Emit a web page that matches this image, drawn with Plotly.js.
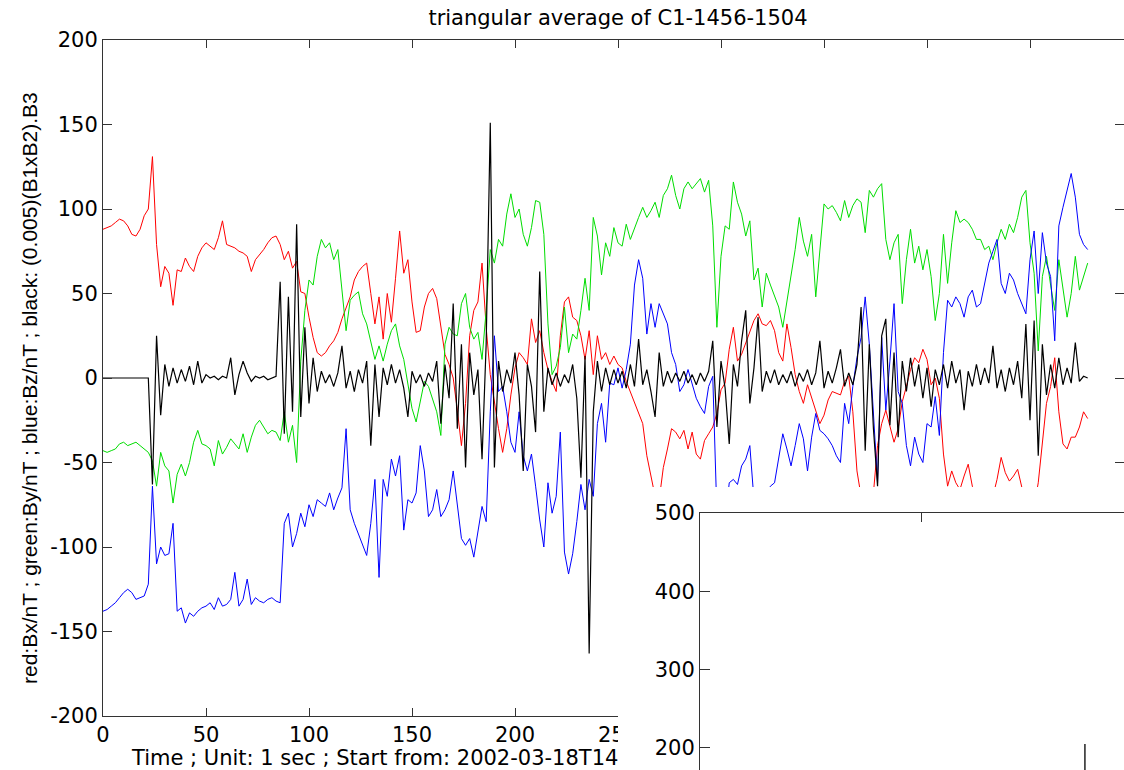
<!DOCTYPE html>
<html>
<head>
<meta charset="utf-8">
<script src="https://cdn.plot.ly/plotly-3.0.1.min.js"></script>
<style>
html,body{margin:0;padding:0;background:#fff;overflow:hidden;}
#chart{width:1124px;height:770px;}
</style>
</head>
<body>
<div id="chart"></div>
<script>
// sample times (seconds)
const timeSec = [0,2,4,6,8,10,12,14,16,18,20,22,24,26,28,30,32,34,36,38,40,42,44,46,48,50,52,54,56,58,60,62,64,66,68,70,72,74,76,78,80,82,84,86,88,90,92,94,96,98,100,102,104,106,108,110,112,114,116,118,120,122,124,126,128,130,132,134,136,138,140,142,144,146,148,150,152,154,156,158,160,162,164,166,168,170,172,174,176,178,180,182,184,186,188,190,192,194,196,198,200,202,204,206,208,210,212,214,216,218,220,222,224,226,228,230,232,234,236,238,240,242,244,246,248,250,252,254,256,258,260,262,264,266,268,270,272,274,276,278,280,282,284,286,288,290,292,294,296,298,300,302,304,306,308,310,312,314,316,318,320,322,324,326,328,330,332,334,336,338,340,342,344,346,348,350,352,354,356,358,360,362,364,366,368,370,372,374,376,378,380,382,384,386,388,390,392,394,396,398,400,402,404,406,408,410,412,414,416,418,420,422,424,426,428,430,432,434,436,438,440,442,444,446,448,450,452,454,456,458,460,462,464,466,468,470,472,474,476,478];

// red: Bx / nT
const bx = [88,89,90,92,94,93,90,85,84,88,
96,100,131,79,54,66,62,43,64,63,
71,66,63,72,77,80,78,76,83,93,
79,78,77,75,74,72,63,70,73,76,
80,83,84,79,70,75,65,69,51,50,
36,24,15,13,15,19,22,27,35,42,
48,58,63,66,68,50,32,48,23,50,
33,59,87,62,70,45,27,28,42,50,
53,47,30,14,8,0,-19,-40,-15,25,
40,45,68,30,2,-15,-30,-44,-30,-10,
6,15,12,8,35,21,28,15,5,-2,
-8,25,45,48,36,34,25,11,28,2,
25,11,15,8,13,8,6,-2,-8,-15,
-20,-27,-46,-58,-70,-72,-53,-42,-30,-32,
-36,-31,-42,-32,-45,-48,-37,-33,-29,-21,
-7,-3,17,30,10,14,21,28,34,38,
32,31,34,28,15,10,32,18,2,-8,
-15,-4,-12,-19,-27,-22,-13,-8,-9,-10,
-2,1,-20,-55,-70,-78,-75,-68,-40,-27,
-19,-28,-38,-30,-14,-5,5,12,9,17,
11,-4,0,-12,-45,-64,-55,-62,-66,-58,
-51,-64,-72,-80,-78,-75,-70,-60,-47,-56,
-61,-58,-54,-65,-75,-80,-76,-62,-40,-15,
-5,12,-20,-39,-42,-35,-35,-29,-20,-24];

// green: By / nT
const by = [-43,-44,-43,-42,-39,-38,-40,-39,-38,-40,
-42,-44,-49,-64,-44,-52,-55,-74,-57,-51,
-58,-50,-38,-31,-39,-40,-42,-52,-37,-45,
-41,-36,-39,-42,-33,-44,-35,-28,-25,-29,
-33,-31,-32,-37,-20,-38,-28,-50,10,40,
58,55,72,82,77,80,70,76,52,28,
46,49,51,38,32,22,11,19,10,20,
28,32,19,11,-3,-18,-26,-15,-2,-5,
-12,-20,-34,20,30,26,25,44,50,30,
23,27,11,40,76,68,82,78,97,109,
95,100,85,78,89,105,104,85,32,2,
7,18,42,15,26,23,40,59,40,95,
84,61,80,72,89,80,78,91,82,89,
95,101,95,99,104,95,108,112,120,108,
100,112,116,112,115,118,110,117,90,30,
72,90,88,116,104,97,84,93,58,65,
42,62,55,48,42,30,46,62,76,95,
81,72,85,48,76,103,100,102,98,93,
105,95,102,106,104,86,111,107,112,115,
82,70,80,85,44,70,88,68,78,64,
76,60,34,50,85,56,80,99,92,94,
92,88,82,82,76,78,70,80,88,82,
91,86,95,107,111,80,62,16,60,72,
55,40,70,52,36,50,72,52,60,68];

// blue: Bz / nT
const bz = [-138,-137,-135,-133,-130,-127,-125,-127,-131,-130,
-129,-122,-64,-110,-100,-105,-104,-86,-138,-136,
-145,-139,-141,-138,-136,-135,-133,-137,-130,-135,
-134,-131,-115,-135,-131,-119,-134,-130,-132,-133,
-131,-130,-132,-133,-86,-80,-100,-92,-80,-88,
-75,-82,-72,-74,-76,-68,-78,-71,-65,-30,
-78,-86,-92,-99,-105,-86,-60,-118,-60,-70,
-48,-58,-46,-90,-72,-74,-68,-40,-55,-82,
-78,-66,-82,-78,-72,-55,-74,-95,-99,-95,
-106,-91,-76,-85,-20,25,-8,-5,-20,-38,
-44,-20,-46,-55,-45,-64,-84,-100,-62,-80,
-70,-32,-103,-116,-104,-85,-63,-78,-60,-70,
-27,-15,-38,-3,-4,6,-6,5,20,55,
70,59,26,44,30,44,38,32,15,8,
-8,-4,5,-3,-12,-17,-21,-5,1,-80,
-95,-85,-62,-60,-63,-52,-48,-40,-72,-80,
-75,-68,-64,-62,-48,-33,-42,-52,-40,-27,
-36,-55,-35,-21,-31,-33,-36,-40,-46,-50,
-15,-27,-5,12,24,48,20,-20,-62,24,
-19,10,44,-8,-15,-40,-52,-35,-45,-50,
-27,-29,-11,-34,15,46,42,48,44,36,
48,52,42,44,56,68,75,82,56,50,
62,58,50,44,38,70,87,50,86,68,
60,22,90,101,111,121,107,85,79,76];

// black: (0.005)(B1xB2).B3
const triple = [0,0,0,0,0,0,0,0,0,0,
0,0,-63,25,-22,8,-5,6,-3,5,
-2,7,-4,10,-3,2,0,1,-1,1,
0,12,-10,2,10,3,-2,1,0,1,
-1,0,1,57,-33,48,-20,91,-23,30,
-15,12,-8,4,-3,2,-5,3,19,-6,
4,-8,5,-3,10,-40,8,-23,6,-4,
8,-3,5,-6,-23,4,-3,2,-5,3,
-2,10,-27,8,-12,44,-30,20,-53,15,
-10,5,-48,20,151,-53,10,-8,5,-3,
15,-10,-55,8,-5,-32,63,-20,6,-4,
3,-5,2,-3,8,-12,-59,13,-163,-20,
10,-8,6,-4,5,-3,4,-6,8,-5,
23,-4,5,-8,-23,15,-5,4,-3,3,
-2,4,-3,2,-4,3,-2,4,22,-29,
10,-6,-39,8,-5,22,40,-15,6,36,
-8,4,-3,5,-4,2,-3,4,-5,3,
-2,5,-4,3,22,-6,4,-3,6,17,
-5,3,-4,8,42,-43,20,-30,-64,25,
35,-28,15,-35,10,-8,12,-5,8,-12,
6,-17,5,-4,8,-6,10,-3,5,-19,
4,-5,8,-4,6,-3,19,-6,5,-8,
6,-4,10,-12,32,-25,34,-46,20,-10,
8,-6,12,-4,6,-3,21,-2,1,0];

// tick values and labels
const mainXTicks = [0,50,100,150,200,250,300,350,400,450];
const mainYTicks = [-200,-150,-100,-50,0,50,100,150,200];
const mainYLabels = ['-200','-150','-100','-50','0','50','100','150','200'];
const insetYTicks = [200,300,400,500];
const insetXTicks = [1];
// the single mark visible in the overlapping second panel
const insetMarkX = [1.734, 1.734];
const insetMarkY = [205, 150];

const titleText = 'triangular average of C1-1456-1504';
const xTitleText = 'Time ; Unit: 1 sec ; Start from: 2002-03-18T14';
const yTitleText = 'red:Bx/nT ; green:By/nT ; blue:Bz/nT ; black: (0.005)(B1xB2).B3';

const W = 1124, H = 770;
const FONT = 'DejaVu Sans, Arial, sans-serif';
const AX = '#333333';

const traces = [
  {x: timeSec, y: bx, mode: 'lines', line: {color: '#ff0000', width: 1}, xaxis: 'x', yaxis: 'y'},
  {x: timeSec, y: by, mode: 'lines', line: {color: '#00dd00', width: 1}, xaxis: 'x', yaxis: 'y'},
  {x: timeSec, y: bz, mode: 'lines', line: {color: '#0000ff', width: 1}, xaxis: 'x', yaxis: 'y'},
  {x: timeSec, y: triple, mode: 'lines', line: {color: '#000000', width: 1.2}, xaxis: 'x', yaxis: 'y'},
  // white frame of the overlapping panel
  {x: [0.5], y: [0.5], mode: 'lines', xaxis: 'x2', yaxis: 'y2', hoverinfo: 'skip'},
  {x: insetMarkX, y: insetMarkY, mode: 'lines', line: {color: '#000000', width: 1.3}, xaxis: 'x3', yaxis: 'y3'}
];

const layout = {
  width: W, height: H, autosize: false,
  margin: {l: 0, r: 0, t: 0, b: 0, pad: 0},
  paper_bgcolor: '#ffffff', plot_bgcolor: '#ffffff',
  showlegend: false,
  font: {family: FONT, size: 21, color: '#000'},
  title: {text: titleText, font: {family: FONT, size: 21, color: '#000'},
          x: 618 / W, xanchor: 'center', y: 1 - 18 / H, yanchor: 'middle'},
  xaxis: {domain: [103 / W, 1], range: [0, 1021 / 2.06], anchor: 'y',
          tickvals: mainXTicks, ticks: 'inside', ticklen: 8, tickcolor: AX, tickwidth: 1,
          showline: true, linecolor: AX, linewidth: 1, mirror: 'ticks',
          showgrid: false, zeroline: false, tickfont: {family: FONT, size: 21, color: '#000'}},
  yaxis: {domain: [1 - 716 / H, 1 - 40 / H], range: [-200, 200], anchor: 'x',
          tickvals: mainYTicks, ticktext: mainYLabels, ticks: 'inside', ticklen: 9, tickcolor: AX, tickwidth: 1,
          showline: true, linecolor: AX, linewidth: 1, mirror: 'ticks',
          showgrid: false, zeroline: false, tickfont: {family: FONT, size: 21, color: '#000'}},
  xaxis2: {domain: [618 / W, 1], range: [0, 1], anchor: 'y2', visible: false},
  yaxis2: {domain: [0, 1 - 487 / H], range: [0, 1], anchor: 'x2', visible: false},
  xaxis3: {domain: [700 / W, 1], range: [0, 1.91], anchor: 'y3', side: 'top',
           tickvals: insetXTicks, ticks: 'inside', ticklen: 9, tickcolor: AX, showticklabels: false,
           showline: true, linecolor: AX, linewidth: 1, mirror: false,
           showgrid: false, zeroline: false},
  yaxis3: {domain: [0, 1 - 513 / H], range: [171.9, 500], anchor: 'x3',
           tickvals: insetYTicks, ticks: 'inside', ticklen: 10, tickcolor: AX,
           showline: true, linecolor: AX, linewidth: 1, mirror: false,
           showgrid: false, zeroline: false, tickfont: {family: FONT, size: 21, color: '#000'}},
  annotations: [
    {text: xTitleText, xref: 'paper', yref: 'paper', x: 129 / W, y: 1 - 758 / H,
     xanchor: 'left', yanchor: 'middle', showarrow: false,
     font: {family: FONT, size: 21, color: '#000'}},
    {text: yTitleText, xref: 'paper', yref: 'paper', x: 30 / W, y: 1 - 388 / H,
     xanchor: 'center', yanchor: 'middle', showarrow: false, textangle: -90,
     font: {family: 'Liberation Sans, Arial, sans-serif', size: 21, color: '#000'}}
  ]
};

Plotly.newPlot('chart', traces, layout, {staticPlot: true, displayModeBar: false});
</script>
</body>
</html>
